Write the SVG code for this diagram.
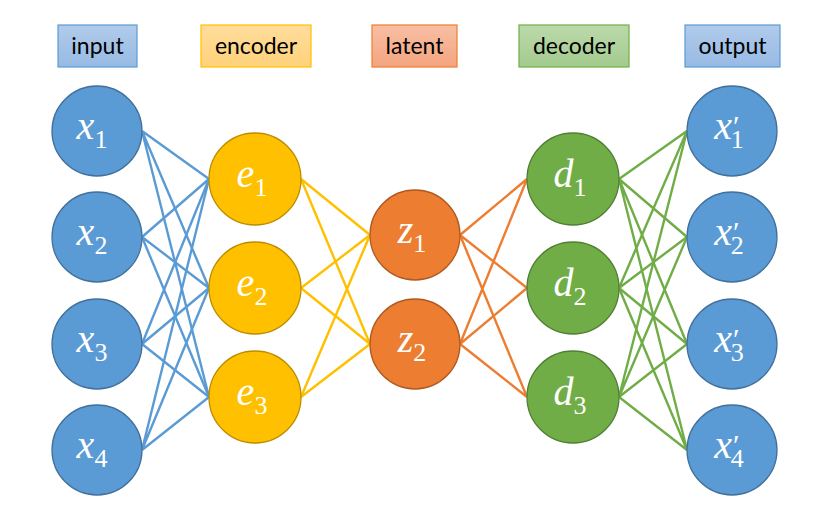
<svg xmlns="http://www.w3.org/2000/svg" width="830" height="519" viewBox="0 0 830 519">
<defs>
<linearGradient id="gBlue" x1="0" y1="0" x2="0" y2="1"><stop offset="0" stop-color="#B1CBEA"/><stop offset="1" stop-color="#97BAE4"/></linearGradient>
<linearGradient id="gYellow" x1="0" y1="0" x2="0" y2="1"><stop offset="0" stop-color="#FFDD9C"/><stop offset="1" stop-color="#FFD27A"/></linearGradient>
<linearGradient id="gOrange" x1="0" y1="0" x2="0" y2="1"><stop offset="0" stop-color="#F8BFA4"/><stop offset="1" stop-color="#F4A47E"/></linearGradient>
<linearGradient id="gGreen" x1="0" y1="0" x2="0" y2="1"><stop offset="0" stop-color="#BCD9AC"/><stop offset="1" stop-color="#A3CB8D"/></linearGradient>
</defs>
<style>
.lbl{font-family:Lato,"Open Sans","Liberation Sans",sans-serif;font-size:23px;fill:#000;text-anchor:middle}
.m{font-family:"Liberation Serif","DejaVu Serif",serif;font-style:italic;font-size:40px;fill:#fff;text-anchor:middle}
.s{font-style:normal;font-size:26px}
.p{font-style:normal;font-size:30px}
.nb{fill:#5B9BD5;stroke:#41719C;stroke-width:1.3}
.ny{fill:#FFC000;stroke:#BC8C00;stroke-width:1.3}
.no{fill:#ED7D31;stroke:#AE5A21;stroke-width:1.3}
.ng{fill:#70AD47;stroke:#507E32;stroke-width:1.3}
.eb{stroke:#5B9BD5;stroke-width:2.4;fill:none}
.ey{stroke:#FFC000;stroke-width:2.4;fill:none}
.eo{stroke:#ED7D31;stroke-width:2.4;fill:none}
.eg{stroke:#70AD47;stroke-width:2.4;fill:none}
</style>
<rect width="830" height="519" fill="#fff"/>
<g id="headers">
<g id="h-input"><rect x="58" y="25" width="79" height="42" fill="url(#gBlue)" stroke="#5B9BD5" stroke-width="1.2"/><text class="lbl" x="97.5" y="54">input</text></g>
<g id="h-encoder"><rect x="201" y="25" width="110" height="42" fill="url(#gYellow)" stroke="#FFC000" stroke-width="1.2"/><text class="lbl" x="256" y="54">encoder</text></g>
<g id="h-latent"><rect x="372" y="25" width="85" height="42" fill="url(#gOrange)" stroke="#ED7D31" stroke-width="1.2"/><text class="lbl" x="414.5" y="54">latent</text></g>
<g id="h-decoder"><rect x="519" y="25" width="110" height="42" fill="url(#gGreen)" stroke="#70AD47" stroke-width="1.2"/><text class="lbl" x="574" y="54">decoder</text></g>
<g id="h-output"><rect x="685" y="25" width="95" height="42" fill="url(#gBlue)" stroke="#5B9BD5" stroke-width="1.2"/><text class="lbl" x="732.5" y="54">output</text></g>
</g>
<g id="connectors">
<g class="eb">
<path d="M142 131L209 179M142 131L209 288M142 131L209 397"/>
<path d="M142 237L209 179M142 237L209 288M142 237L209 397"/>
<path d="M142 344L209 179M142 344L209 288M142 344L209 397"/>
<path d="M142 450L209 179M142 450L209 288M142 450L209 397"/>
</g>
<g class="ey">
<path d="M301 179L370 235M301 179L370 344M301 288L370 235M301 288L370 344M301 397L370 235M301 397L370 344"/>
</g>
<g class="eo">
<path d="M460 235L527 179M460 235L527 288M460 235L527 397M460 344L527 179M460 344L527 288M460 344L527 397"/>
</g>
<g class="eg">
<path d="M619 179L687 131M619 179L687 237M619 179L687 344M619 179L687 450"/>
<path d="M619 288L687 131M619 288L687 237M619 288L687 344M619 288L687 450"/>
<path d="M619 397L687 131M619 397L687 237M619 397L687 344M619 397L687 450"/>
</g>
</g>
<g id="x1"><circle class="nb" cx="97" cy="131" r="45"/><text class="m" x="92" y="139">x<tspan class="s" dy="9">1</tspan></text></g>
<g id="x2"><circle class="nb" cx="97" cy="237" r="45"/><text class="m" x="92" y="245">x<tspan class="s" dy="9">2</tspan></text></g>
<g id="x3"><circle class="nb" cx="97" cy="344" r="45"/><text class="m" x="92" y="352">x<tspan class="s" dy="9">3</tspan></text></g>
<g id="x4"><circle class="nb" cx="97" cy="450" r="45"/><text class="m" x="92" y="458">x<tspan class="s" dy="9">4</tspan></text></g>
<g id="e1"><circle class="ny" cx="255" cy="179" r="46"/><text class="m" x="252" y="187">e<tspan class="s" dy="9">1</tspan></text></g>
<g id="e2"><circle class="ny" cx="255" cy="288" r="46"/><text class="m" x="252" y="296">e<tspan class="s" dy="9">2</tspan></text></g>
<g id="e3"><circle class="ny" cx="255" cy="397" r="46"/><text class="m" x="252" y="405">e<tspan class="s" dy="9">3</tspan></text></g>
<g id="z1"><circle class="no" cx="415" cy="235" r="45"/><text class="m" x="412" y="243">z<tspan class="s" dy="9">1</tspan></text></g>
<g id="z2"><circle class="no" cx="415" cy="344" r="45"/><text class="m" x="412" y="352">z<tspan class="s" dy="9">2</tspan></text></g>
<g id="d1"><circle class="ng" cx="573" cy="179" r="46"/><text class="m" x="570" y="187">d<tspan class="s" dy="9">1</tspan></text></g>
<g id="d2"><circle class="ng" cx="573" cy="288" r="46"/><text class="m" x="570" y="296">d<tspan class="s" dy="9">2</tspan></text></g>
<g id="d3"><circle class="ng" cx="573" cy="397" r="46"/><text class="m" x="570" y="405">d<tspan class="s" dy="9">3</tspan></text></g>
<g id="xp1"><circle class="nb" cx="732" cy="131" r="45"/><text class="m" x="729" y="139">x<tspan class="p" dx="1" dy="-3">′</tspan><tspan class="s" dx="-9" dy="12">1</tspan></text></g>
<g id="xp2"><circle class="nb" cx="732" cy="237" r="45"/><text class="m" x="729" y="245">x<tspan class="p" dx="1" dy="-3">′</tspan><tspan class="s" dx="-9" dy="12">2</tspan></text></g>
<g id="xp3"><circle class="nb" cx="732" cy="344" r="45"/><text class="m" x="729" y="352">x<tspan class="p" dx="1" dy="-3">′</tspan><tspan class="s" dx="-9" dy="12">3</tspan></text></g>
<g id="xp4"><circle class="nb" cx="732" cy="450" r="45"/><text class="m" x="729" y="458">x<tspan class="p" dx="1" dy="-3">′</tspan><tspan class="s" dx="-9" dy="12">4</tspan></text></g>
</svg>
